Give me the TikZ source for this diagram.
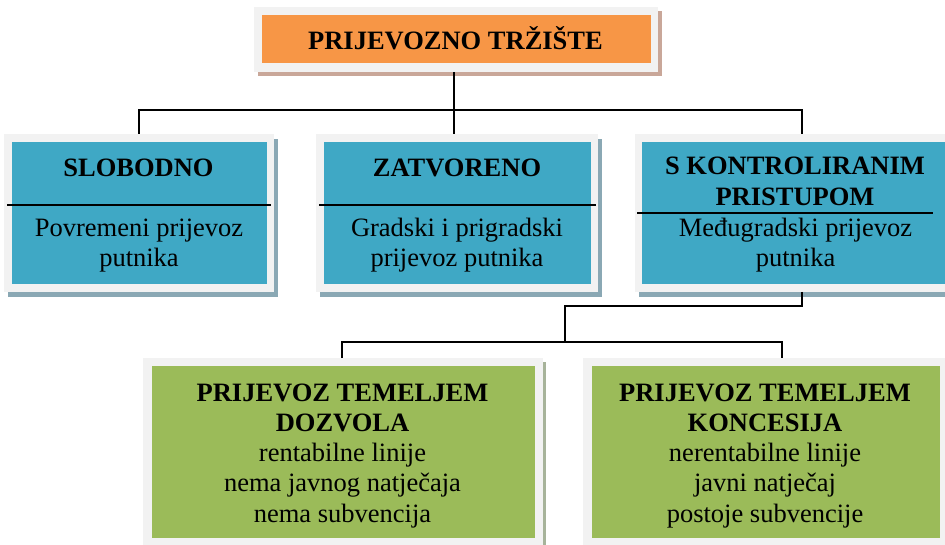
\documentclass[tikz,border=0pt]{standalone}
\usepackage{fontspec}
\setmainfont{Liberation Serif}
\usetikzlibrary{shadows}
\definecolor{orangeF}{HTML}{F79646}
\definecolor{blueF}{HTML}{3FA8C5}
\definecolor{greenF}{HTML}{9BBB59}
\definecolor{frameG}{HTML}{F2F2F2}
\definecolor{shOr}{HTML}{C9A799}
\definecolor{shBl}{HTML}{8AA8B4}
\definecolor{shGr}{HTML}{A7B39A}
\tikzset{
  frame/.style={fill=frameG, draw=none, inner sep=0pt, outer sep=0pt},
  shadowO/.style={drop shadow={shadow xshift=4pt, shadow yshift=-4pt, fill=shOr, opacity=1}},
  shadowB/.style={drop shadow={shadow xshift=4pt, shadow yshift=-5pt, fill=shBl, opacity=1}},
  shadowG/.style={drop shadow={shadow xshift=3pt, shadow yshift=-4pt, fill=shGr, opacity=1}},
  inner/.style={draw=none, inner sep=0pt, outer sep=0pt},
  tx/.style={font=\fontsize{26.5}{31}\selectfont, inner sep=0pt, anchor=base},
  tb/.style={font=\fontsize{26.5}{31}\selectfont\bfseries, inner sep=0pt, anchor=base},
  conn/.style={draw=black, line width=1.4pt},
  divider/.style={draw=black, line width=1.4pt}
}
\begin{document}
\begin{tikzpicture}[x=1pt,y=-1pt]
\useasboundingbox[fill=white] (0,0) rectangle (945,545);

% junction points
\coordinate (j1) at (454,110);
\coordinate (j2) at (565,306);
\coordinate (j3) at (565,342);

% frames (named) - drawn first for anchors
\path node[frame, shadowO, minimum width=404pt, minimum height=65pt] (topF) at (456,39.5) {};
\path node[frame, shadowB, minimum width=270pt, minimum height=158pt] (lF) at (139,213) {};
\path node[frame, shadowB, minimum width=282pt, minimum height=158pt] (mF) at (457,213) {};
\path node[frame, shadowB, minimum width=325pt, minimum height=158pt] (rF) at (797.5,213) {};
\path node[frame, shadowG, minimum width=400pt, minimum height=194pt] (gL) at (343,455) {};
\path node[frame, shadowG, minimum width=364pt, minimum height=194pt] (gR) at (765,455) {};

% connectors
\draw[conn] (topF.south -| j1) -- (j1);
\draw[conn] (lF.north) |- (j1) -| ([xshift=4.5pt]rF.north);
\draw[conn] (j1) -- (j1 |- mF.north);
\draw[conn] ([xshift=4.5pt]rF.south) |- (j2) -- (j3);
\draw[conn] ([xshift=-1pt]gL.north) |- (j3) -| ([xshift=17pt]gR.north);

% inner coloured boxes
\node[inner, fill=orangeF, minimum width=389pt, minimum height=48pt] (topI) at (456.5,39) {};
\node[inner, fill=blueF, minimum width=255pt, minimum height=142pt] (lI) at (139.5,213) {};
\node[inner, fill=blueF, minimum width=267pt, minimum height=142pt] (mI) at (457.5,213) {};
\node[inner, fill=blueF, minimum width=313pt, minimum height=142pt] (rI) at (798.5,213) {};
\node[inner, fill=greenF, minimum width=383pt, minimum height=172pt] (gLI) at (343.5,452) {};
\node[inner, fill=greenF, minimum width=348pt, minimum height=172pt] (gRI) at (766,452) {};

% dividers
\draw[divider] (7,205) -- (271,205);
\draw[divider] (319,205) -- (596,205);
\draw[divider] (637,213) -- (933,213);

% texts
\node[tb] (t0) at (455.5,50) {PRIJEVOZNO TRŽIŠTE};

\node[tb] (t1) at (138.5,177) {SLOBODNO};
\node[tx] (t2) at (139,237) {Povremeni prijevoz};
\node[tx] (t3) at (139,267) {putnika};

\node[tb] (t4) at (457,177) {ZATVORENO};
\node[tx] (t5) at (457,237) {Gradski i prigradski};
\node[tx] (t6) at (457,267) {prijevoz putnika};

\node[tb] (t7) at (795,175) {S KONTROLIRANIM};
\node[tb] (t8) at (795,206) {PRISTUPOM};
\node[tx] (t9) at (795.5,237) {Međugradski prijevoz};
\node[tx] (t10) at (795.5,267) {putnika};

\node[tb] (t11) at (342.5,401) {PRIJEVOZ TEMELJEM};
\node[tb] (t12) at (342.5,431.5) {DOZVOLA};
\node[tx] (t13) at (342.5,461) {rentabilne linije};
\node[tx] (t14) at (342.5,491.5) {nema javnog natječaja};
\node[tx] (t15) at (342.5,522) {nema subvencija};

\node[tb] (t16) at (765,401) {PRIJEVOZ TEMELJEM};
\node[tb] (t17) at (765,431.5) {KONCESIJA};
\node[tx] (t18) at (765,461) {nerentabilne linije};
\node[tx] (t19) at (765,491.5) {javni natječaj};
\node[tx] (t20) at (765,522) {postoje subvencije};
\end{tikzpicture}
\end{document}
